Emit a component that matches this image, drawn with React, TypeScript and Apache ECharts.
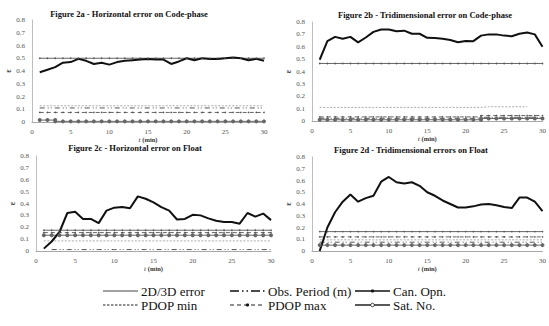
import React, { useEffect, useRef } from "react";
import * as echarts from "echarts";

const minutes = [1, 2, 3, 4, 5, 6, 7, 8, 9, 10, 11, 12, 13, 14, 15, 16, 17, 18, 19, 20, 21, 22, 23, 24, 25, 26, 27, 28, 29, 30];

const titles = [
  "Figure 2a - Horizontal error on Code-phase",
  "Figure 2b - Tridimensional error on Code-phase",
  "Figure 2c - Horizontal error on Float",
  "Figure 2d - Tridimensional errors on Float",
];

const seriesNames = ["2D/3D error", "Obs. Period (m)", "Can. Opn.", "PDOP min", "PDOP max", "Sat. No."];

// Main error curves (epsilon vs t)
const err2a = [0.39, 0.41, 0.43, 0.465, 0.47, 0.495, 0.48, 0.455, 0.465, 0.45, 0.47, 0.48, 0.485, 0.49, 0.495, 0.49, 0.49, 0.455, 0.475, 0.5, 0.485, 0.5, 0.495, 0.495, 0.5, 0.505, 0.5, 0.485, 0.495, 0.48];
const err2b = [0.495, 0.645, 0.68, 0.665, 0.68, 0.635, 0.675, 0.72, 0.74, 0.74, 0.725, 0.73, 0.705, 0.705, 0.672, 0.67, 0.665, 0.655, 0.637, 0.647, 0.645, 0.69, 0.7, 0.7, 0.69, 0.685, 0.705, 0.715, 0.7, 0.6];
const err2c = [0.02, 0.08, 0.16, 0.32, 0.33, 0.27, 0.27, 0.235, 0.34, 0.365, 0.37, 0.36, 0.46, 0.44, 0.41, 0.37, 0.34, 0.265, 0.27, 0.305, 0.3, 0.275, 0.255, 0.245, 0.245, 0.23, 0.32, 0.29, 0.315, 0.26];
const err2d = [0.0, 0.2, 0.33, 0.42, 0.48, 0.42, 0.45, 0.47, 0.59, 0.63, 0.585, 0.575, 0.585, 0.555, 0.5, 0.47, 0.43, 0.4, 0.37, 0.37, 0.38, 0.395, 0.4, 0.39, 0.375, 0.365, 0.455, 0.455, 0.42, 0.34];

// Normalised reference levels: segments [fromMinute, toMinute, value]
const obs2a = [[1, 30, 0.11]];
const can2a = [[1, 30, 0.5]];
const pmin2a = [[1, 30, 0.127]];
const pmax2a = [[1, 30, 0.075]];
const sat2a = [[1, 3, 0.015], [3, 30, 0.005]];

const obs2b = [[1, 22, 0.022], [22, 30, 0.03]];
const can2b = [[1, 30, 0.465]];
const pmin2b = [[1, 22, 0.11], [22, 28, 0.115]];
const pmax2b = [[1, 22, 0.033], [22, 30, 0.044]];
const sat2b = [[1, 22, 0.01], [22, 30, 0.02]];

const obs2c = [[2, 30, 0.012]];
const can2c = [[1, 30, 0.175]];
const pmin2c = [[1, 30, 0.085]];
const pmax2c = [[1, 30, 0.155]];
const sat2c = [[1, 30, 0.133]];

const obs2d = [[1, 30, 0.075]];
const can2d = [[1, 30, 0.165]];
const pmin2d = [[1, 30, 0.095]];
const pmax2d = [[1, 30, 0.12]];
const sat2d = [[1, 30, 0.05]];

const xTicks = [0, 5, 10, 15, 20, 25, 30];
const yTicks = [0, 0.1, 0.2, 0.3, 0.4, 0.5, 0.6, 0.7, 0.8];

const panels = [
  { err: err2a, obs: obs2a, can: can2a, pmin: pmin2a, pmax: pmax2a, sat: sat2a },
  { err: err2b, obs: obs2b, can: can2b, pmin: pmin2b, pmax: pmax2b, sat: sat2b },
  { err: err2c, obs: obs2c, can: can2c, pmin: pmin2c, pmax: pmax2c, sat: sat2c },
  { err: err2d, obs: obs2d, can: can2d, pmin: pmin2d, pmax: pmax2d, sat: sat2d },
];

const SERIF = "Liberation Serif, serif";

const grids = [
  { left: 32, top: 20, width: 232, height: 102 },
  { left: 312, top: 22, width: 233, height: 99 },
  { left: 36, top: 156, width: 235, height: 95 },
  { left: 312, top: 157, width: 233, height: 94 },
];
const titlePos = [
  [129, 14],
  [425, 15],
  [135, 148],
  [411, 150],
];

const styles: Record<string, any> = {
  "2D/3D error": { color: "#111", lineStyle: { color: "#111", width: 2 }, symbol: "none" },
  "Obs. Period (m)": { color: "#555", lineStyle: { color: "#555", width: 1, type: [5, 3, 1, 2, 1, 3] }, symbol: "none" },
  "Can. Opn.": { color: "#666", lineStyle: { color: "#666", width: 1 }, symbol: "circle", symbolSize: 1.6, itemStyle: { color: "#555" } },
  "PDOP min": { color: "#aaa", lineStyle: { color: "#aaa", width: 1, type: [2, 1.5] }, symbol: "none" },
  "PDOP max": { color: "#666", lineStyle: { color: "#666", width: 1, type: [4, 3] }, symbol: "circle", symbolSize: 1.6, itemStyle: { color: "#555" } },
  "Sat. No.": { color: "#666", lineStyle: { color: "#666", width: 1 }, symbol: "emptyCircle", symbolSize: 2, itemStyle: { color: "#666", borderWidth: 0.5 } },
};

function expand(segs: number[][]) {
  const pts: number[][] = [];
  segs.forEach(([a, b, v]) => {
    minutes.forEach((t) => {
      if (t >= a && t <= b) pts.push([t, v]);
    });
  });
  return pts;
}

// Legend layout (manual, drawn with graphic elements)
const legendCells = [
  [103, 291],
  [230, 291],
  [355, 291],
  [103, 305],
  [230, 305],
  [355, 305],
];

function legendGraphic() {
  const els: any[] = [];
  seriesNames.forEach((name, i) => {
    const [x, y] = legendCells[i];
    const w = 35;
    const st = styles[name];
    let lineDash: any = null;
    let lw = 1;
    let stroke = "#222";
    if (name === "2D/3D error") { lw = 1; stroke = "#444"; }
    if (name === "Obs. Period (m)") { lineDash = [9, 3, 1.5, 3, 1.5, 3]; lw = 1.3; stroke = "#111"; }
    if (name === "Can. Opn.") { lw = 1.6; stroke = "#111"; }
    if (name === "PDOP min") { lineDash = [2.5, 1.5]; lw = 1.2; stroke = "#222"; }
    if (name === "PDOP max") { lineDash = [4, 3]; lw = 1.2; stroke = "#222"; }
    if (name === "Sat. No.") { lw = 1.4; stroke = "#222"; }
    els.push({
      type: "line",
      silent: true,
      shape: { x1: x, y1: y, x2: x + w, y2: y },
      style: { stroke, lineWidth: lw, lineDash },
    });
    if (st.symbol === "circle") {
      els.push({ type: "circle", silent: true, shape: { cx: x + w / 2, cy: y, r: 1.6 }, style: { fill: "#111" } });
    } else if (st.symbol === "emptyCircle") {
      els.push({ type: "circle", silent: true, shape: { cx: x + w / 2, cy: y, r: 1.8 }, style: { fill: "#fff", stroke: "#111", lineWidth: 0.8 } });
    }
    els.push({
      type: "text",
      silent: true,
      x: x + w + 3,
      y,
      style: { text: name, textVerticalAlign: "middle", font: `13px ${SERIF}`, fill: "#111" },
    });
  });
  return els;
}

function buildOption() {
  const series: any[] = [];
  panels.forEach((p, gi) => {
    const levelData: Record<string, number[][]> = {
      "Obs. Period (m)": expand(p.obs),
      "Can. Opn.": expand(p.can),
      "PDOP min": expand(p.pmin),
      "PDOP max": expand(p.pmax),
      "Sat. No.": expand(p.sat),
    };
    ["PDOP min", "Obs. Period (m)", "PDOP max", "Sat. No.", "Can. Opn."].forEach((name) => {
      series.push({
        type: "line",
        name,
        xAxisIndex: gi,
        yAxisIndex: gi,
        data: levelData[name],
        showSymbol: styles[name].symbol !== "none",
        silent: true,
        ...styles[name],
      });
    });
    series.push({
      type: "line",
      name: "2D/3D error",
      xAxisIndex: gi,
      yAxisIndex: gi,
      data: minutes.map((t, i) => [t, p.err[i]]),
      silent: true,
      ...styles["2D/3D error"],
    });
  });

  const xAxis = grids.map((_, gi) => ({
    type: "value",
    gridIndex: gi,
    min: xTicks[0],
    max: xTicks[xTicks.length - 1],
    interval: 5,
    axisLine: { show: true, lineStyle: { color: "#a8a8a8", width: 1 } },
    axisTick: { show: false },
    splitLine: { show: false },
    axisLabel: { fontSize: 7, color: "#555", fontFamily: SERIF, margin: 6 },
    name: "{i|t} {b|(min)}",
    nameLocation: "middle",
    nameGap: 13,
    nameTextStyle: {
      fontSize: 7,
      lineHeight: 8,
      rich: {
        i: { fontStyle: "italic", fontSize: 7, lineHeight: 8, fontFamily: SERIF, color: "#333" },
        b: { fontWeight: "bold", fontSize: 6.5, lineHeight: 8, fontFamily: SERIF, color: "#333" },
      },
    },
  }));

  const yAxis = grids.map((_, gi) => ({
    type: "value",
    gridIndex: gi,
    min: yTicks[0],
    max: yTicks[yTicks.length - 1],
    interval: 0.1,
    axisLine: { show: true, lineStyle: { color: "#bdbdbd", width: 1 } },
    axisTick: { show: false },
    splitLine: { show: false },
    axisLabel: {
      fontSize: 7,
      color: "#555",
      fontFamily: SERIF,
      margin: 7,
      formatter: (v: number) => String(Math.round(v * 10) / 10),
    },
    name: "ε",
    nameLocation: "middle",
    nameGap: 20,
    nameRotate: 90,
    nameTextStyle: { fontSize: 8, fontWeight: "bold", fontFamily: SERIF, color: "#333" },
  }));

  const titleGraphic = titles.map((text, i) => ({
    type: "text",
    x: titlePos[i][0],
    y: titlePos[i][1],
    silent: true,
    style: {
      text,
      textAlign: "center",
      textVerticalAlign: "middle",
      font: `bold 8.5px ${SERIF}`,
      fill: "#111",
    },
  }));

  return {
    animation: false,
    backgroundColor: "#ffffff",
    grid: grids,
    xAxis,
    yAxis,
    graphic: [...titleGraphic, ...legendGraphic()],
    series,
  };
}

export default function App() {
  const ref = useRef<HTMLDivElement>(null);
  useEffect(() => {
    if (!ref.current) return;
    const chart = echarts.init(ref.current, undefined, { renderer: "svg" });
    chart.setOption(buildOption() as any);
    return () => chart.dispose();
  }, []);
  return <div ref={ref} style={{ width: 549, height: 326, position: "absolute", left: 0, top: 0 }} />;
}
